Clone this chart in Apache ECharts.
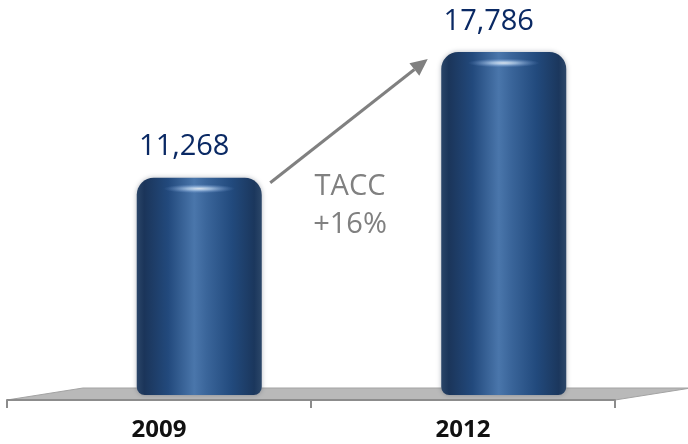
<!DOCTYPE html>
<html>
<head>
<meta charset="utf-8">
<style>
  html, body { margin: 0; padding: 0; background: #ffffff; }
  #chart { width: 688px; height: 444px; }
</style>
<script src="https://cdn.jsdelivr.net/npm/echarts@6/dist/echarts.min.js"></script>
</head>
<body>
<div id="chart"></div>
<script>
// Data
const years = ['2009', '2012'];
const volumes = [11268, 17786];
const growthTitle = 'TACC';
const growthValue = '+16%';

const chart = echarts.init(document.getElementById('chart'), null, { renderer: 'canvas' });

const FONT = '"Open Sans", "Noto Sans", sans-serif';

// Horizontal shading that makes each bar look like a cylinder
const cylinderFill = new echarts.graphic.LinearGradient(0, 0, 1, 0, [
  { offset: 0.00, color: '#2a4568' },
  { offset: 0.06, color: '#1b355a' },
  { offset: 0.25, color: '#22497c' },
  { offset: 0.46, color: '#4a76ab' },
  { offset: 0.56, color: '#3a659a' },
  { offset: 0.76, color: '#224a7d' },
  { offset: 0.94, color: '#1b375d' },
  { offset: 1.00, color: '#2c4769' }
]);

const glint = new echarts.graphic.RadialGradient(0.5, 0.5, 0.5, [
  { offset: 0, color: 'rgba(255,255,255,1)' },
  { offset: 0.35, color: 'rgba(210,232,255,0.75)' },
  { offset: 1, color: 'rgba(120,160,220,0)' }
]);

const floorShape = { points: [[7, 400], [83, 388], [691, 388], [615, 400]] };

const option = {
  backgroundColor: '#ffffff',
  animation: false,
  grid: [
    // front edge of the floor, carries the year labels
    { left: 7, right: 73, top: 9, bottom: 44 },
    // bars stand further back on the floor
    { left: 47, right: 32, top: 9.3, bottom: 49 }
  ],
  xAxis: [
    {
      type: 'category', gridIndex: 0, data: years,
      axisLine: { show: true, lineStyle: { color: '#8c8c8c', width: 2 } },
      axisTick: { show: true, length: 8, lineStyle: { color: '#8c8c8c', width: 2 } },
      axisLabel: { color: '#111111', fontSize: 24, fontWeight: 'bold', fontFamily: FONT, margin: 18 },
      z: 3
    },
    {
      type: 'category', gridIndex: 1, data: years, show: false
    }
  ],
  yAxis: [
    { type: 'value', gridIndex: 0, min: 0, max: 20000, show: false, splitLine: { show: false } },
    { type: 'value', gridIndex: 1, min: 0, max: 20000, show: false, splitLine: { show: false } }
  ],
  series: [
    {
      type: 'bar', xAxisIndex: 1, yAxisIndex: 1,
      data: volumes, barWidth: 125, z: 2,
      itemStyle: {
        color: cylinderFill,
        borderRadius: [17, 17, 8, 8],
        shadowBlur: 5, shadowColor: 'rgba(40,50,70,0.35)'
      },
      label: {
        show: true, position: 'top', distance: 16, offset: [-15, 0],
        color: '#0a2964', fontSize: 29, fontFamily: FONT,
        formatter: p => p.value.toLocaleString('en-US')
      }
    },
    {
      // specular highlight near each bar's top
      type: 'scatter', xAxisIndex: 1, yAxisIndex: 1,
      data: volumes, z: 4, silent: true,
      symbol: 'circle', symbolSize: [72, 9], symbolOffset: [0, 11],
      itemStyle: { color: glint }
    }
  ]
};

chart.setOption(option);

// Growth arrow between the two bar tops
const p1 = chart.convertToPixel({ xAxisIndex: 1, yAxisIndex: 1 }, [0, volumes[0]]);
const p2 = chart.convertToPixel({ xAxisIndex: 1, yAxisIndex: 1 }, [1, volumes[1]]);
const start = [p1[0] + 71, p1[1] + 5];
const tip = [p2[0] - 76, p2[1] + 7];
const ang = Math.atan2(tip[1] - start[1], tip[0] - start[0]);
const headLen = 17, headHalf = 8;
const base = [tip[0] - headLen * Math.cos(ang), tip[1] - headLen * Math.sin(ang)];
const nx = -Math.sin(ang), ny = Math.cos(ang);

chart.setOption({
  graphic: [
    {
      // grey floor plane
      type: 'polygon', z: 0, silent: true,
      shape: floorShape,
      style: { fill: '#b9b9b9', stroke: '#a3a3a3', lineWidth: 1 }
    },
    {
      type: 'text', z: 10,
      style: {
        text: growthTitle + '\n' + growthValue,
        x: 350, y: 206, align: 'center', verticalAlign: 'middle',
        fill: '#808080', fontSize: 29, fontFamily: FONT, lineHeight: 38
      }
    },
    {
      type: 'line', z: 10, silent: true,
      shape: { x1: start[0], y1: start[1], x2: base[0], y2: base[1] },
      style: { stroke: '#808080', lineWidth: 3 }
    },
    {
      type: 'polygon', z: 10, silent: true,
      shape: { points: [tip, [base[0] + nx * headHalf, base[1] + ny * headHalf], [base[0] - nx * headHalf, base[1] - ny * headHalf]] },
      style: { fill: '#808080' }
    }
  ]
});
</script>
</body>
</html>
